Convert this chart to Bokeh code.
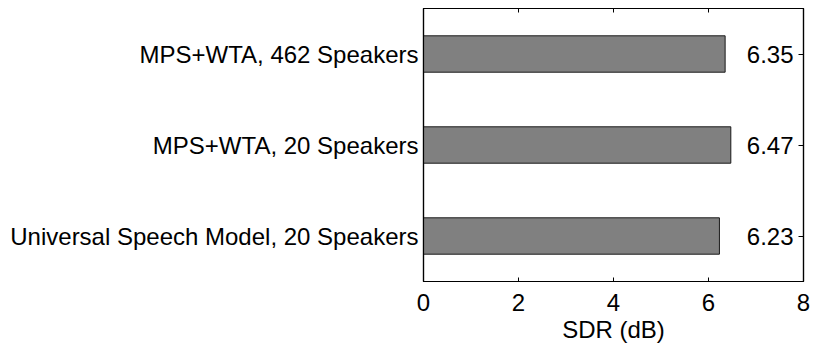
from bokeh.plotting import figure
from bokeh.models import (ColumnDataSource, FactorRange, Range1d, LinearAxis,
                          CategoricalAxis, FixedTicker)
from bokeh.embed import file_html
from bokeh.resources import INLINE
from bokeh.core.properties import value

# Systems, listed bottom to top
systems = [
    "Universal Speech Model, 20 Speakers",
    "MPS+WTA, 20 Speakers",
    "MPS+WTA, 462 Speakers",
]
sdr_db = [6.23, 6.47, 6.35]
x_ticks = [0, 2, 4, 6, 8]

FONT = "Liberation Sans"
FS = "24px"

src = ColumnDataSource(dict(
    system=systems,
    sdr=sdr_db,
    label=[f"{v:.2f}" for v in sdr_db],
    xpos=[x_ticks[-1]] * len(systems),
))

p = figure(
    width=814, height=347,
    y_range=FactorRange(*systems),
    x_range=Range1d(x_ticks[0], x_ticks[-1]),
    output_backend="svg", toolbar_location=None,
    x_axis_location=None, y_axis_location=None,
    min_border_left=423, min_border_right=11,
    min_border_top=8, min_border_bottom=66,
)
p.grid.visible = False
p.background_fill_color = "white"
p.border_fill_color = "white"
p.outline_line_color = "black"
p.outline_line_width = 1.2

p.hbar(y="system", right="sdr", left=0, height=0.4, source=src,
       fill_color="#808080", line_color="#1a1a1a", line_width=1)

p.text(x="xpos", y="system", text="label", source=src,
       x_offset=-10, text_align="right", text_baseline="middle",
       text_font=value(FONT), text_font_size=FS, text_color="black")

ticker = FixedTicker(ticks=x_ticks, minor_ticks=[])

# bottom axis with labels
xb = LinearAxis(ticker=ticker, axis_label="SDR (dB)")
xb.major_tick_in = 4
xb.major_tick_out = 0
xb.minor_tick_line_color = None
xb.axis_line_width = 1.2
xb.axis_line_color = "black"
xb.major_tick_line_color = "black"
xb.major_tick_line_width = 1
xb.major_label_text_font = FONT
xb.major_label_text_font_size = FS
xb.major_label_text_color = "black"
xb.major_label_standoff = 12
xb.axis_label_text_font = FONT
xb.axis_label_text_font_size = FS
xb.axis_label_text_color = "black"
xb.axis_label_text_font_style = "normal"
xb.axis_label_standoff = 2
p.add_layout(xb, "below")

# top axis: ticks only
xt = LinearAxis(ticker=ticker)
xt.major_tick_in = 4
xt.major_tick_out = 0
xt.minor_tick_line_color = None
xt.axis_line_width = 1.2
xt.axis_line_color = "black"
xt.major_tick_line_color = "black"
xt.major_label_text_color = None
xt.major_label_text_font_size = "1px"
p.add_layout(xt, "above")

# left axis: system names
yl = CategoricalAxis()
yl.major_tick_in = 0
yl.major_tick_out = 0
yl.axis_line_width = 1.2
yl.axis_line_color = "black"
yl.major_label_text_font = FONT
yl.major_label_text_font_size = FS
yl.major_label_text_color = "black"
yl.major_label_standoff = 5
p.add_layout(yl, "left")

# right axis: tick marks at each bar
yr = CategoricalAxis()
yr.major_tick_in = 5
yr.major_tick_out = 0
yr.axis_line_width = 1.2
yr.axis_line_color = "black"
yr.major_tick_line_color = "black"
yr.major_label_text_color = None
yr.major_label_text_font_size = "1px"
p.add_layout(yr, "right")

open("out.html", "w").write(file_html(p, INLINE))
